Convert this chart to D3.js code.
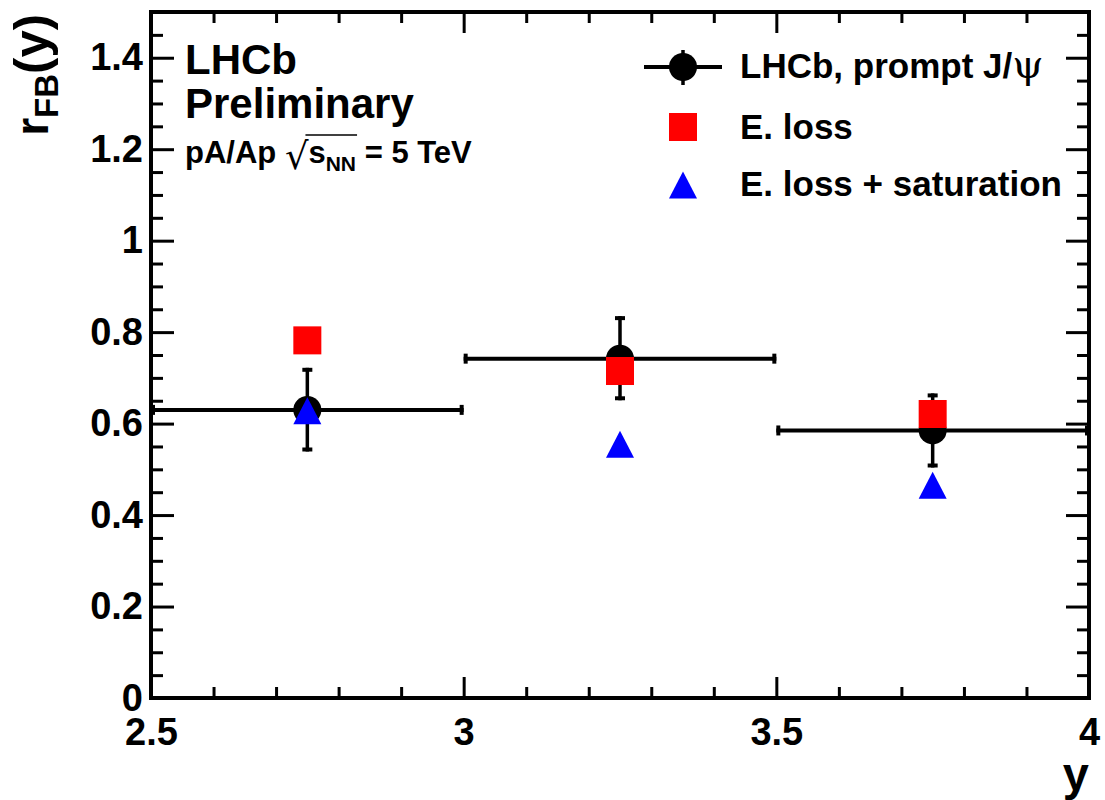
<!DOCTYPE html>
<html>
<head>
<meta charset="utf-8">
<script src="https://cdn.jsdelivr.net/npm/d3@7"></script>
<style>
  html, body { margin: 0; padding: 0; background: #fff; }
  svg { display: block; }
  text { font-family: "Liberation Sans", Arial, sans-serif; font-weight: bold; fill: #000; }
</style>
</head>
<body>
<svg id="chart" width="1105" height="800"></svg>
<script>
// ---- data ----
const binLo    = [2.5, 3.0, 3.5];
const binHi    = [3.0, 3.5, 4.0];
const binMid   = [2.75, 3.25, 3.75];
const lhcb     = [0.630, 0.742, 0.585];
const lhcbErrHi = [0.092, 0.093, 0.081];
const lhcbErrLo = [0.091, 0.091, 0.081];
const eLoss    = [0.782, 0.715, 0.621];
const eLossSat = [0.628, 0.555, 0.465];
const xMajorTicks = [2.5, 3, 3.5, 4];
const yMajorTicks = [0, 0.2, 0.4, 0.6, 0.8, 1, 1.2, 1.4];
const legendLabels = ["LHCb, prompt J/", "E. loss", "E. loss + saturation"];

const svg = d3.select("#chart");
const L = 151, R = 1089, T = 12, B = 698;
const x = d3.scaleLinear().domain([2.5, 4]).range([L, R]);
const y = d3.scaleLinear().domain([0, 1.5]).range([B, T]);

const xMinor = d3.range(25, 41).map(v => v / 10).filter(v => !xMajorTicks.includes(v));
const yMinor = d3.range(0, 31).map(v => v / 20).filter(v => !yMajorTicks.some(m => Math.abs(m - v) < 1e-9));

function styleAxis(g) {
  g.select(".domain").remove();
  g.selectAll(".tick line").attr("stroke", "#000").attr("stroke-width", 3);
  g.selectAll(".tick text").style("font-size", "38px").style("font-family", "'Liberation Sans', Arial, sans-serif").style("font-weight", "bold");
}

// bottom axis (labels)
svg.append("g").attr("transform", `translate(0,${B})`)
  .call(d3.axisBottom(x).tickValues(xMajorTicks).tickSizeInner(-21).tickSizeOuter(0).tickPadding(20)
        .tickFormat(d => String(d)))
  .call(styleAxis);
svg.append("g").attr("transform", `translate(0,${B})`)
  .call(d3.axisBottom(x).tickValues(xMinor).tickSizeInner(-11).tickSizeOuter(0).tickFormat(""))
  .call(styleAxis);
// top axis
svg.append("g").attr("transform", `translate(0,${T})`)
  .call(d3.axisTop(x).tickValues(xMajorTicks).tickSizeInner(-21).tickSizeOuter(0).tickFormat(""))
  .call(styleAxis);
svg.append("g").attr("transform", `translate(0,${T})`)
  .call(d3.axisTop(x).tickValues(xMinor).tickSizeInner(-11).tickSizeOuter(0).tickFormat(""))
  .call(styleAxis);
// left axis
svg.append("g").attr("transform", `translate(${L},0)`)
  .call(d3.axisLeft(y).tickValues(yMajorTicks).tickSizeInner(-23).tickSizeOuter(0).tickPadding(8)
        .tickFormat(d => String(+d.toFixed(1))))
  .call(styleAxis);
svg.append("g").attr("transform", `translate(${L},0)`)
  .call(d3.axisLeft(y).tickValues(yMinor).tickSizeInner(-12).tickSizeOuter(0).tickFormat(""))
  .call(styleAxis);
// right axis
svg.append("g").attr("transform", `translate(${R},0)`)
  .call(d3.axisRight(y).tickValues(yMajorTicks).tickSizeInner(-23).tickSizeOuter(0).tickFormat(""))
  .call(styleAxis);
svg.append("g").attr("transform", `translate(${R},0)`)
  .call(d3.axisRight(y).tickValues(yMinor).tickSizeInner(-12).tickSizeOuter(0).tickFormat(""))
  .call(styleAxis);

// frame
svg.append("rect").attr("x", L).attr("y", T).attr("width", R - L).attr("height", B - T)
  .attr("fill", "none").attr("stroke", "#000").attr("stroke-width", 4);

// axis titles
svg.append("text").attr("x", R).attr("y", 790).attr("text-anchor", "end")
  .style("font-size", "47px").text("y");
const yt = svg.append("text").attr("transform", "translate(48,14) rotate(-90)").attr("text-anchor", "end");
yt.append("tspan").style("font-size", "46px").text("r");
yt.append("tspan").style("font-size", "33px").attr("dy", 10).text("FB");
yt.append("tspan").style("font-size", "49px").attr("dy", -10).text("(y)");

// ---- data marks ----
const data = binMid.map((m, i) => ({
  m, lo: binLo[i], hi: binHi[i], v: lhcb[i], eh: lhcbErrHi[i], el: lhcbErrLo[i],
  el2: eLoss[i], sat: eLossSat[i]
}));

const gData = svg.append("g");
gData.selectAll(".hbar").data(data).join("line")
  .attr("x1", d => x(d.lo)).attr("x2", d => x(d.hi))
  .attr("y1", d => y(d.v)).attr("y2", d => y(d.v))
  .attr("stroke", "#000").attr("stroke-width", 4);
gData.selectAll(".hcapL").data(data).join("line")
  .attr("x1", d => x(d.lo) + 2).attr("x2", d => x(d.lo) + 2)
  .attr("y1", d => y(d.v) - 5).attr("y2", d => y(d.v) + 5)
  .attr("stroke", "#000").attr("stroke-width", 4);
gData.selectAll(".hcapR").data(data).join("line")
  .attr("x1", d => x(d.hi) - 2).attr("x2", d => x(d.hi) - 2)
  .attr("y1", d => y(d.v) - 5).attr("y2", d => y(d.v) + 5)
  .attr("stroke", "#000").attr("stroke-width", 4);
gData.selectAll(".vbar").data(data).join("line")
  .attr("x1", d => x(d.m)).attr("x2", d => x(d.m))
  .attr("y1", d => y(d.v + d.eh)).attr("y2", d => y(d.v - d.el))
  .attr("stroke", "#000").attr("stroke-width", 3.5);
gData.selectAll(".vcapT").data(data).join("line")
  .attr("x1", d => x(d.m) - 5).attr("x2", d => x(d.m) + 5)
  .attr("y1", d => y(d.v + d.eh) + 2).attr("y2", d => y(d.v + d.eh) + 2)
  .attr("stroke", "#000").attr("stroke-width", 4);
gData.selectAll(".vcapB").data(data).join("line")
  .attr("x1", d => x(d.m) - 5).attr("x2", d => x(d.m) + 5)
  .attr("y1", d => y(d.v - d.el) - 2).attr("y2", d => y(d.v - d.el) - 2)
  .attr("stroke", "#000").attr("stroke-width", 4);
gData.selectAll(".pt").data(data).join("circle")
  .attr("cx", d => x(d.m)).attr("cy", d => y(d.v)).attr("r", 14).attr("fill", "#000");

function triPath(cx, cy, w, h) {
  const p = d3.path();
  p.moveTo(cx, cy - h / 2); p.lineTo(cx + w / 2, cy + h / 2); p.lineTo(cx - w / 2, cy + h / 2); p.closePath();
  return p.toString();
}
gData.selectAll(".sq").data(data).join("rect")
  .attr("x", d => x(d.m) - 14).attr("y", d => y(d.el2) - 14).attr("width", 28).attr("height", 28)
  .attr("fill", "#ff0000");
gData.selectAll(".tri").data(data).join("path")
  .attr("d", d => triPath(x(d.m), y(d.sat), 28, 27)).attr("fill", "#0000ff");

// ---- text labels ----
svg.append("text").attr("x", 185).attr("y", 74).style("font-size", "42px").text("LHCb");
svg.append("text").attr("x", 185).attr("y", 118).style("font-size", "42px").text("Preliminary");
const energy = svg.append("text").attr("x", 185).attr("y", 163).style("font-size", "31px");
energy.append("tspan").text("pA/Ap ");
energy.append("tspan").style("font-weight", "normal").style("font-family", "'DejaVu Sans', sans-serif")
  .style("font-size", "37px").attr("dy", 6).text("\u221A");
energy.append("tspan").attr("dy", -6).text("s");
energy.append("tspan").style("font-size", "21px").attr("dy", 8).text("NN");
energy.append("tspan").attr("dy", -8).text(" = 5 TeV");
{
  const node = energy.node();
  const sIdx = "pA/Ap \u221A".length;
  const st = node.getStartPositionOfChar(sIdx).x;
  const en = node.getEndPositionOfChar(sIdx + 2).x;
  svg.append("line").attr("x1", st - 3).attr("x2", en + 1).attr("y1", 135).attr("y2", 135)
    .attr("stroke", "#000").attr("stroke-width", 1.5);
}

// ---- legend ----
const lg = svg.append("g");
const lx = 683, rowsY = [67, 127, 185], textX = 740;
lg.append("line").attr("x1", 644).attr("x2", 722).attr("y1", rowsY[0]).attr("y2", rowsY[0])
  .attr("stroke", "#000").attr("stroke-width", 4);
lg.append("line").attr("x1", lx).attr("x2", lx).attr("y1", rowsY[0] - 17).attr("y2", rowsY[0] + 18)
  .attr("stroke", "#000").attr("stroke-width", 3.5);
lg.append("circle").attr("cx", lx).attr("cy", rowsY[0]).attr("r", 14).attr("fill", "#000");
lg.append("rect").attr("x", lx - 14).attr("y", rowsY[1] - 14).attr("width", 28).attr("height", 28).attr("fill", "#ff0000");
lg.append("path").attr("d", triPath(lx, rowsY[2], 28, 27)).attr("fill", "#0000ff");

const t0 = lg.append("text").attr("x", textX).attr("y", 78).style("font-size", "35px");
t0.append("tspan").text(legendLabels[0]);
t0.append("tspan").style("font-weight", "normal").style("font-family", "'DejaVu Serif', serif")
  .style("font-size", "40px").text("\u03C8");
lg.append("text").attr("x", textX).attr("y", 139).style("font-size", "35px").text(legendLabels[1]);
lg.append("text").attr("x", textX).attr("y", 196).style("font-size", "35px").text(legendLabels[2]);
</script>
</body>
</html>
